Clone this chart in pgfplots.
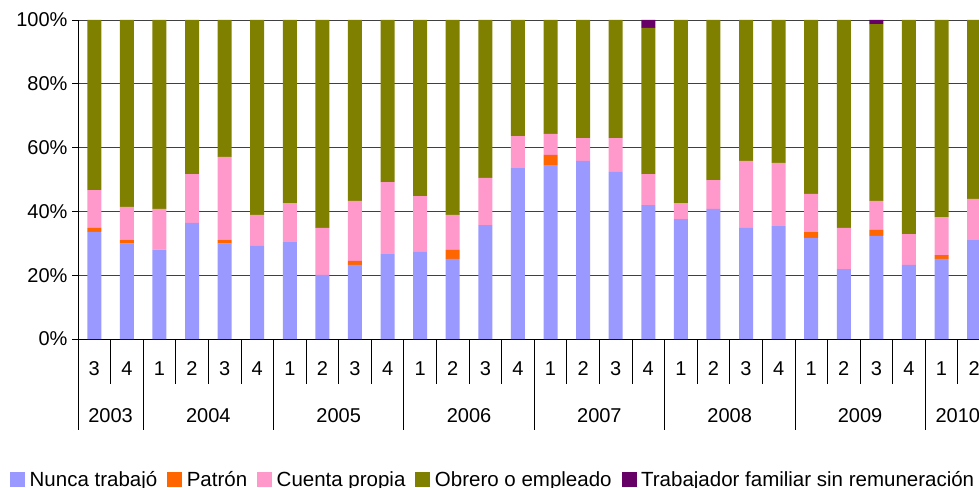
\documentclass[border=0pt]{standalone}
\usepackage{fontspec}
\setmainfont{Liberation Sans}
\usepackage{pgfplots}
\usepackage{pgfplotstable}
\pgfplotsset{compat=1.18}
\definecolor{cblue}{HTML}{9999FF}
\definecolor{corange}{HTML}{FF6600}
\definecolor{cpink}{HTML}{FF99CC}
\definecolor{colive}{HTML}{808000}
\definecolor{cpurple}{HTML}{660066}
\pgfplotstableread{
x  b     o    p     g     t
1  33.6  1.2  11.9  53.3  0
2  29.9  1.1  10.4  58.6  0
3  28.0  0    12.8  59.2  0
4  36.4  0    15.3  48.3  0
5  29.9  1.1  26.1  42.9  0
6  29.2  0    9.7   61.1  0
7  30.4  0    12.2  57.4  0
8  20.1  0    14.7  65.2  0
9  23.2  1.3  18.8  56.7  0
10 26.6  0    22.6  50.8  0
11 27.3  0    17.5  55.2  0
12 25.1  2.8  11.0  61.1  0
13 35.7  0    14.8  49.5  0
14 53.6  0    10.0  36.4  0
15 54.5  3.2  6.6   35.7  0
16 55.8  0    7.2   37.0  0
17 52.4  0    10.6  37.0  0
18 42.0  0    9.7   45.8  2.5
19 37.6  0    5.0   57.4  0
20 40.8  0    9.0   50.2  0
21 34.8  0    21.0  44.2  0
22 35.4  0    19.8  44.8  0
23 31.7  1.8  12.0  54.5  0
24 21.9  0    12.9  65.2  0
25 32.3  1.9  9.1   55.4  1.3
26 23.2  0    9.7   67.1  0
27 25.1  1.2  11.9  61.8  0
28 31.0  0    12.9  56.1  0
}\datatable
\begin{document}
\begin{tikzpicture}
\begin{axis}[
  at={(78pt,148pt)}, anchor=south west,
  width=901pt, height=319pt, scale only axis,
  xmin=0.5, xmax=28.15, ymin=0, ymax=100,
  ybar stacked, bar width=14pt,
  axis lines*=left,
  axis line style={black, line width=0.9pt},
  clip=false,
  ytick={0,20,40,60,80,100},
  yticklabels={0\%,20\%,40\%,60\%,80\%,100\%},
  ymajorgrids, grid style={black!75, line width=0.9pt},
  tick align=outside, major tick length=6pt,
  y tick style={black, line width=0.8pt},
  x tick style={draw=none},
  xtick={1,...,28},
  xticklabels={3,4,1,2,3,4,1,2,3,4,1,2,3,4,1,2,3,4,1,2,3,4,1,2,3,4,1,2},
  tick label style={font=\fontsize{20}{24}\selectfont},
  xticklabel style={anchor=base, yshift=-30pt},
  yticklabel style={anchor=east, xshift=-1pt},
  legend columns=-1,
  legend style={at={(-0.0755,-0.4404)}, anchor=west, draw=none, fill=none,
    inner sep=0pt, font=\fontsize{20.5}{24}\selectfont,
    /tikz/every odd column/.append style={column sep=2.5pt},
    /tikz/every even column/.append style={column sep=8pt}},
  legend image code/.code={\fill[#1] (0pt,-7.5pt) rectangle (15pt,7.5pt);},
]
\addplot[fill=cblue, draw=none] table[x=x, y=b] {\datatable};
\addplot[fill=corange, draw=none] table[x=x, y=o] {\datatable};
\addplot[fill=cpink, draw=none] table[x=x, y=p] {\datatable};
\addplot[fill=colive, draw=none] table[x=x, y=g] {\datatable};
\addplot[fill=cpurple, draw=none] table[x=x, y=t] {\datatable};
\legend{Nunca trabajó, Patrón, Cuenta propia, Obrero o empleado, Trabajador familiar sin remuneración}
\pgfplotsinvokeforeach{1.5,3.5,4.5,5.5,7.5,8.5,9.5,11.5,12.5,13.5,15.5,16.5,17.5,19.5,20.5,21.5,23.5,24.5,25.5,27.5}{
  \draw[black, line width=0.8pt] (axis cs:#1,0) -- ++(0pt,-45pt);
}
\pgfplotsinvokeforeach{0.5,2.5,6.5,10.5,14.5,18.5,22.5,26.5}{
  \draw[black, line width=0.8pt] (axis cs:#1,0) -- ++(0pt,-91pt);
}
\node[font=\fontsize{20}{24}\selectfont, anchor=base] at (axis cs:1.5,0) [yshift=-83.7pt] {2003};
\node[font=\fontsize{20}{24}\selectfont, anchor=base] at (axis cs:4.5,0) [yshift=-83.7pt] {2004};
\node[font=\fontsize{20}{24}\selectfont, anchor=base] at (axis cs:8.5,0) [yshift=-83.7pt] {2005};
\node[font=\fontsize{20}{24}\selectfont, anchor=base] at (axis cs:12.5,0) [yshift=-83.7pt] {2006};
\node[font=\fontsize{20}{24}\selectfont, anchor=base] at (axis cs:16.5,0) [yshift=-83.7pt] {2007};
\node[font=\fontsize{20}{24}\selectfont, anchor=base] at (axis cs:20.5,0) [yshift=-83.7pt] {2008};
\node[font=\fontsize{20}{24}\selectfont, anchor=base] at (axis cs:24.5,0) [yshift=-83.7pt] {2009};
\node[font=\fontsize{20}{24}\selectfont, anchor=base] at (axis cs:27.5,0) [yshift=-83.7pt] {2010};
\end{axis}
\pgfresetboundingbox
\useasboundingbox (0,0) rectangle (979pt,487pt);
\end{tikzpicture}
\end{document}
